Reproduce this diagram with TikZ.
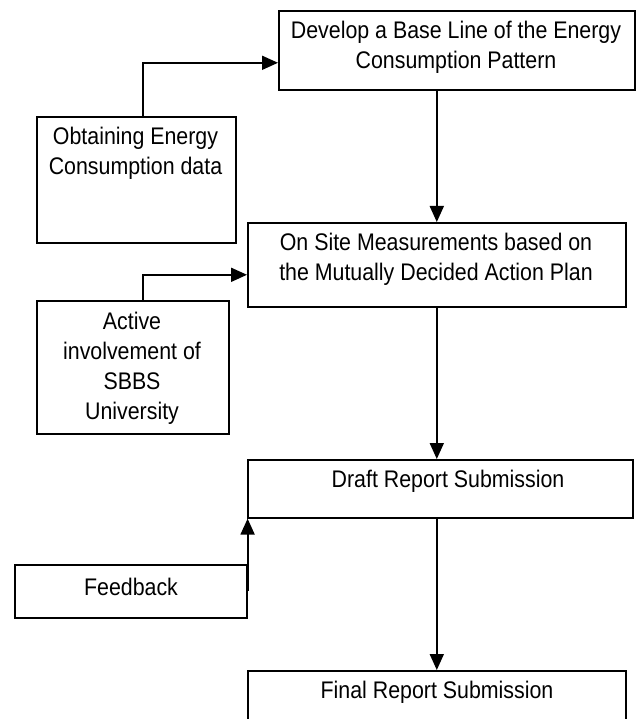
\documentclass[tikz,border=0pt]{standalone}
\usepackage{fontspec}
\setmainfont{Liberation Sans}[FakeStretch=0.89]
\usetikzlibrary{arrows.meta}
\begin{document}
\begin{tikzpicture}[x=1pt,y=-1pt,
  box/.style={draw, line width=1.6pt, inner sep=0pt, anchor=north west},
  lbl/.style={font=\fontsize{24}{30}\selectfont, align=center, inner sep=0pt},
  arr/.style={line width=1.8pt, -{Triangle[length=16pt,width=14pt]}}]
\useasboundingbox (0,0) rectangle (639,719);
% boxes
\node[box, minimum width=356pt, minimum height=79pt]  (dev) at (278,10) {};
\node[box, minimum width=199pt, minimum height=126pt] (obt) at (36,116) {};
\node[box, minimum width=378pt, minimum height=84pt]  (ons) at (247,222) {};
\node[box, minimum width=192pt, minimum height=133pt] (act) at (36,300) {};
\node[box, minimum width=385pt, minimum height=58pt]  (dr)  at (247,459) {};
\node[box, minimum width=232pt, minimum height=53pt]  (fb)  at (14,564) {};
\node[box, minimum width=378pt, minimum height=62pt]  (fin) at (247,670) {};
% labels
\node[lbl] (devT) at (456,47.5) {Develop a Base Line of the Energy\\Consumption Pattern};
\node[lbl] (obtT) at (135.5,153) {Obtaining Energy\\Consumption data};
\node[lbl] (onsT) at (436,259.5) {On Site Measurements based on\\the Mutually Decided Action Plan};
\node[lbl] (actT) at (132,368) {Active\\involvement of\\SBBS\\University};
\node[lbl] (drT)  at (448,481) {Draft Report Submission};
\node[lbl] (fbT)  at (131,587) {Feedback};
\node[lbl] (finT) at (437,692) {Final Report Submission};
% connectors
\draw[arr] ([xshift=6.5pt]obt.north) |- ([yshift=-12.5pt]dev.west);
\draw[arr] (dev.south -| ons.north) -- (ons.north);
\draw[arr] ([xshift=10pt]act.north) |- ([yshift=-10pt]ons.west);
\draw[arr] (ons.south) -- (ons.south |- dr.north);
\draw[arr] (fb.east) -- (fb.east |- dr.south);
\draw[arr] (dr.south -| fin.north) -- (fin.north);
\end{tikzpicture}
\end{document}
